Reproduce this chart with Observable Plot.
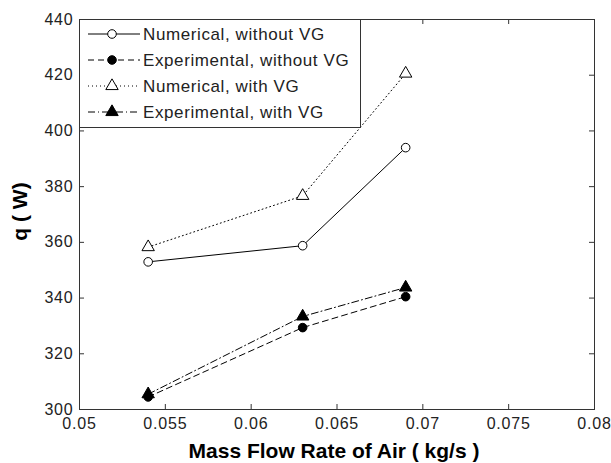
<!DOCTYPE html>
<html><head><meta charset="utf-8">
<script src="https://cdn.jsdelivr.net/npm/d3@7"></script>
<script src="https://cdn.jsdelivr.net/npm/@observablehq/plot@0.6"></script>
<style>body{margin:0;background:#fff} #chart svg{display:block}</style>
</head><body><div id="chart"></div>
<script>
const massFlow = [0.054, 0.063, 0.069];
const seriesNames = ["Numerical, without VG", "Experimental, without VG", "Numerical, with VG", "Experimental, with VG"];
const numericalWithoutVG = [353.0, 358.8, 394.0];
const experimentalWithoutVG = [304.5, 329.4, 340.5];
const numericalWithVG = [358.3, 376.7, 420.6];
const experimentalWithVG = [305.5, 333.4, 343.8];
const xTicks = [0.05, 0.055, 0.06, 0.065, 0.07, 0.075, 0.08];
const yTicks = [300, 320, 340, 360, 380, 400, 420, 440];
const xLabel = "Mass Flow Rate of Air ( kg/s )";
const yLabel = "q ( W)";

const seriesValues = [numericalWithoutVG, experimentalWithoutVG, numericalWithVG, experimentalWithVG];
const styles = [
  {dash: null, symbol: "circle", fill: "white", r: 4.3},
  {dash: "6,4", symbol: "circle", fill: "black", r: 4.3},
  {dash: "1,3", symbol: "triangle", fill: "white", r: 4.6},
  {dash: "7,3,1,3", symbol: "triangle", fill: "black", r: 4.6}
];
const data = seriesValues.map((vals, i) => vals.map((q, j) => ({series: seriesNames[i], x: massFlow[j], q})));

const W = 611, H = 463, ML = 79, MR = 17, MT = 19, MB = 54;
const fw = W - ML - MR, fh = H - MT - MB;

const marks = [];
data.forEach((d, i) => {
  const s = styles[i];
  marks.push(Plot.line(d, {x: "x", y: "q", stroke: "black", strokeWidth: 1, strokeDasharray: s.dash}));
});
data.forEach((d, i) => {
  const s = styles[i];
  marks.push(Plot.dot(d, {x: "x", y: "q", symbol: s.symbol, r: s.r, fill: s.fill, stroke: "black", strokeWidth: 1}));
});

const svg = Plot.plot({
  width: W, height: H,
  marginLeft: ML, marginRight: MR, marginTop: MT, marginBottom: MB,
  style: {fontFamily: "'Liberation Sans', Arial, sans-serif", background: "white", color: "#222"},
  x: {domain: [0.05, 0.08]},
  y: {domain: [300, 440]},
  marks: [
    Plot.tickX(xTicks, {x: d => d, stroke: "#333", insetTop: fh - 5}),
    Plot.tickX(xTicks, {x: d => d, stroke: "#333", insetBottom: fh - 5}),
    Plot.tickY(yTicks, {y: d => d, stroke: "#333", insetRight: fw - 5}),
    Plot.tickY(yTicks, {y: d => d, stroke: "#333", insetLeft: fw - 5}),
    Plot.axisX(xTicks, {tickSize: 0, tickPadding: 8, fontSize: 16, label: null, tickFormat: d => `${d}`, fill: "#222"}),
    Plot.axisY(yTicks, {tickSize: 0, tickPadding: 6, fontSize: 16, label: null, fill: "#222"}),
    ...marks,
    Plot.frame({stroke: "#333"}),
    Plot.text([xLabel], {text: d => d, frameAnchor: "bottom", lineAnchor: "middle", textAnchor: "middle", dx: -3, dy: 42, fontSize: 21, fontWeight: "bold", fill: "black"}),
    Plot.text([yLabel], {text: d => d, frameAnchor: "left", lineAnchor: "middle", textAnchor: "middle", dx: -59, dy: -3, rotate: -90, fontSize: 21, fontWeight: "bold", fill: "black"})
  ]
});

d3.select(svg).selectAll("[aria-label='x-axis tick label'] text, [aria-label='y-axis tick label'] text").style("letter-spacing", "0.8px");

// legend
const g = d3.select(svg).append("g").attr("aria-label", "legend").attr("text-anchor", "start");
g.append("rect").attr("x", ML + 0.5).attr("y", MT + 0.5).attr("width", 281).attr("height", 108)
  .attr("fill", "white").attr("stroke", "#333");
seriesNames.forEach((name, i) => {
  const s = styles[i];
  const y = 34 + 26 * i;
  g.append("line").attr("x1", 88).attr("x2", 140).attr("y1", y).attr("y2", y)
    .attr("stroke", "black").attr("stroke-width", 1).attr("stroke-dasharray", s.dash);
  const sym = s.symbol === "circle" ? d3.symbolCircle : d3.symbolTriangle;
  g.append("path").attr("d", d3.symbol(sym, Math.PI * s.r * s.r)())
    .attr("transform", `translate(112,${y})`).attr("fill", s.fill).attr("stroke", "black");
  g.append("text").attr("x", 143).attr("y", y).attr("dy", "0.35em").attr("text-anchor", "start")
    .attr("font-size", 17).style("letter-spacing", "0.6px").attr("fill", "#222").text(name);
});

document.getElementById("chart").appendChild(svg);
</script>
</body></html>
